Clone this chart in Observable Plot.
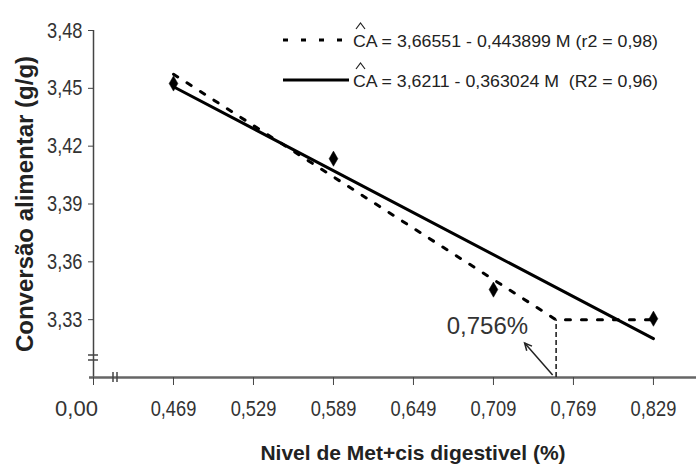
<!DOCTYPE html>
<html>
<head>
<meta charset="utf-8">
<script src="https://cdn.jsdelivr.net/npm/d3@7"></script>
<script src="https://cdn.jsdelivr.net/npm/@observablehq/plot@0.6"></script>
<style>
  body { margin: 0; background: #fff; }
  #chart svg { display: block; }
  .legend text { white-space: pre; }
</style>
</head>
<body>
<div id="chart"></div>
<script>
// Digestible Met+cis level (%) and observed feed conversion (g/g)
const levels = [0.469, 0.589, 0.709, 0.829];
const conversion = [3.4525, 3.4135, 3.3456, 3.3305];

// Axis ticks and their printed labels
const xTicks = [0.469, 0.529, 0.589, 0.649, 0.709, 0.769, 0.829];
const xTickLabels = ["0,469", "0,529", "0,589", "0,649", "0,709", "0,769", "0,829"];
const yTicks = [3.33, 3.36, 3.39, 3.42, 3.45, 3.48];
const yTickLabels = ["3,33", "3,36", "3,39", "3,42", "3,45", "3,48"];

// Broken x axis: the origin "0,00" is drawn one tick step before the first level
const originPos = 0.409;
const originLabel = "0,00";
const xMax = 0.8613;
const yMin = 3.30;
const yMax = 3.48;

// Fitted models: linear-plateau (dashed) and linear (solid)
const plateauFit = { a: 3.66551, b: 0.443899, knot: 0.756 };
const linearFit = { a: 3.6211, b: 0.363024 };
const knotLabel = "0,756%";
const legendLabels = [
  "CA = 3,66551 - 0,443899 M (r2 = 0,98)",
  "CA = 3,6211 - 0,363024 M  (R2 = 0,96)"
];
const yTitle = "Conversão alimentar (g/g)";
const xTitle = "Nivel de Met+cis digestivel (%)";

const observed = levels.map((m, i) => ({ m, ca: conversion[i] }));
const plateauValue = plateauFit.a - plateauFit.b * plateauFit.knot;
const plateauLine = [levels[0], plateauFit.knot, levels[levels.length - 1]].map(m => ({
  m, ca: m <= plateauFit.knot ? plateauFit.a - plateauFit.b * m : plateauValue
}));
const linearLine = [levels[0], levels[levels.length - 1]].map(m => ({ m, ca: linearFit.a - linearFit.b * m }));

const xLabelMap = new Map(xTicks.map((t, i) => [t, xTickLabels[i]]));
const yLabelMap = new Map(yTicks.map((t, i) => [t, yTickLabels[i]]));

const sans = "'Liberation Sans', Arial, sans-serif";

const plot = Plot.plot({
  width: 696,
  height: 468,
  marginTop: 30,
  marginBottom: 91,
  marginLeft: 93,
  marginRight: 0,
  style: { fontFamily: sans, fontSize: "22px", color: "#333", background: "#fff", overflow: "visible" },
  x: { domain: [originPos, xMax], axis: null },
  y: { domain: [yMin, yMax], axis: null },
  marks: [
    // y axis line and x axis line
    Plot.ruleX([originPos], { y1: yMin, y2: yMax, stroke: "#444", strokeWidth: 1.5 }),
    Plot.ruleY([yMin], { stroke: "#666", strokeWidth: 2.5, insetLeft: -4 }),
    Plot.axisY({
      ticks: yTicks, tickFormat: d => yLabelMap.get(d), tickSize: 5, tickPadding: 6,
      label: null, stroke: "#444", fill: "#333", fontSize: 22
    }),
    Plot.axisX({
      ticks: [originPos, ...xTicks], tickFormat: d => xLabelMap.get(d) ?? "",
      tickSize: 8, tickPadding: 15, label: null, stroke: "#444", fill: "#333", fontSize: 22
    }),
    Plot.text([originLabel], {
      x: originPos, y: yMin, text: d => d, dx: -17, dy: 23, lineAnchor: "top",
      fill: "#333", fontSize: 22, ariaLabel: "x-origin"
    }),
    // fitted curves
    Plot.line(linearLine, { x: "m", y: "ca", stroke: "#000", strokeWidth: 3 }),
    Plot.line(plateauLine, { x: "m", y: "ca", stroke: "#000", strokeWidth: 3, strokeDasharray: "5,11" }),
    Plot.ruleX([plateauFit.knot], { y1: yMin, y2: plateauValue, stroke: "#222", strokeWidth: 1.6, strokeDasharray: "5,3" }),
    // observed means
    Plot.dot(observed, { x: "m", y: "ca", symbol: "diamond", r: 4.6, fill: "#000", stroke: "#000", strokeWidth: 0.5 }),
    // optimum level annotation
    Plot.text([knotLabel], {
      x: plateauFit.knot, y: plateauValue, text: d => d, dx: -28, dy: 6,
      textAnchor: "end", lineAnchor: "middle", fontSize: 24, fill: "#333"
    }),
    // axis titles
    Plot.text([yTitle], {
      frameAnchor: "left", text: d => d, rotate: -90, dx: -68, textAnchor: "middle", lineAnchor: "middle",
      fontWeight: "bold", fontSize: 24, fill: "#222", ariaLabel: "y-title"
    }),
    Plot.text([xTitle], {
      frameAnchor: "bottom", text: d => d, dx: 18, dy: 76, textAnchor: "middle", lineAnchor: "middle",
      fontWeight: "bold", fontSize: 21, fill: "#222", ariaLabel: "x-title"
    })
  ]
});

document.getElementById("chart").appendChild(plot);

const svg = d3.select(plot);

// condensed lettering: tick labels are squeezed, titles are fitted to a width
function squeeze(sel, factor) {
  sel.each(function () {
    const w = this.getComputedTextLength();
    if (w > 0) {
      this.setAttribute("textLength", (w * factor).toFixed(1));
      this.setAttribute("lengthAdjust", "spacingAndGlyphs");
    }
  });
}
function fitWidth(sel, width, adjust) {
  sel.each(function () {
    this.setAttribute("textLength", width);
    this.setAttribute("lengthAdjust", adjust);
  });
}
squeeze(svg.selectAll('[aria-label="y-axis tick label"] text, [aria-label="x-axis tick label"] text, [aria-label="x-origin"] text'), 0.83);
fitWidth(svg.selectAll('[aria-label="y-title"] text'), 308, "spacing");
fitWidth(svg.selectAll('[aria-label="x-title"] text'), 279, "spacingAndGlyphs");

// Extra drawing in screen space: axis breaks, arrow and legend
const sx = plot.scale("x");
const sy = plot.scale("y");
const x0 = sx.apply(originPos);
const yAxisPx = sy.apply(yMin);

const deco = svg.append("g").attr("stroke", "#444").attr("stroke-width", 1.5).attr("fill", "none");
// break on the y axis
[-22, -17].forEach(o => deco.append("line")
  .attr("x1", x0 - 5).attr("x2", x0 + 5).attr("y1", yAxisPx + o).attr("y2", yAxisPx + o));
// break on the x axis
[20, 24].forEach(o => deco.append("line")
  .attr("x1", x0 + o).attr("x2", x0 + o).attr("y1", yAxisPx - 5).attr("y2", yAxisPx + 5));

// arrow from the optimum on the x axis towards its label
const kx = sx.apply(plateauFit.knot);
const ax1 = kx - 3, ay1 = yAxisPx - 2, ax2 = kx - 31, ay2 = yAxisPx - 34;
const ang = Math.atan2(ay2 - ay1, ax2 - ax1);
const head = 8, spread = 0.45;
const arrow = svg.append("g").attr("stroke", "#222").attr("stroke-width", 1.5).attr("fill", "none");
arrow.append("line").attr("x1", ax1).attr("y1", ay1).attr("x2", ax2).attr("y2", ay2);
arrow.append("path").attr("d",
  `M${ax2 - head * Math.cos(ang - spread)},${ay2 - head * Math.sin(ang - spread)}L${ax2},${ay2}L${ax2 - head * Math.cos(ang + spread)},${ay2 - head * Math.sin(ang + spread)}`);

// legend: sample line, equation, and the circumflex over "CA"
const legend = svg.append("g").attr("class", "legend")
  .attr("font-family", sans).attr("font-size", 17).attr("fill", "#222").attr("text-anchor", "start");
legendLabels.forEach((label, i) => {
  const yb = 47 + 40 * i;
  legend.append("line")
    .attr("x1", 283).attr("x2", 349).attr("y1", yb - 7).attr("y2", yb - 7)
    .attr("stroke", "#000").attr("stroke-width", 3)
    .attr("stroke-dasharray", i === 0 ? "5,13" : null);
  legend.append("text").attr("x", 353).attr("y", yb).text(label)
    .attr("textLength", 305).attr("lengthAdjust", "spacingAndGlyphs");
  legend.append("path")
    .attr("d", `M356,${yb - 18}L360.5,${yb - 24}L365,${yb - 18}`)
    .attr("fill", "none").attr("stroke", "#222").attr("stroke-width", 1.2);
});
</script>
</body>
</html>
